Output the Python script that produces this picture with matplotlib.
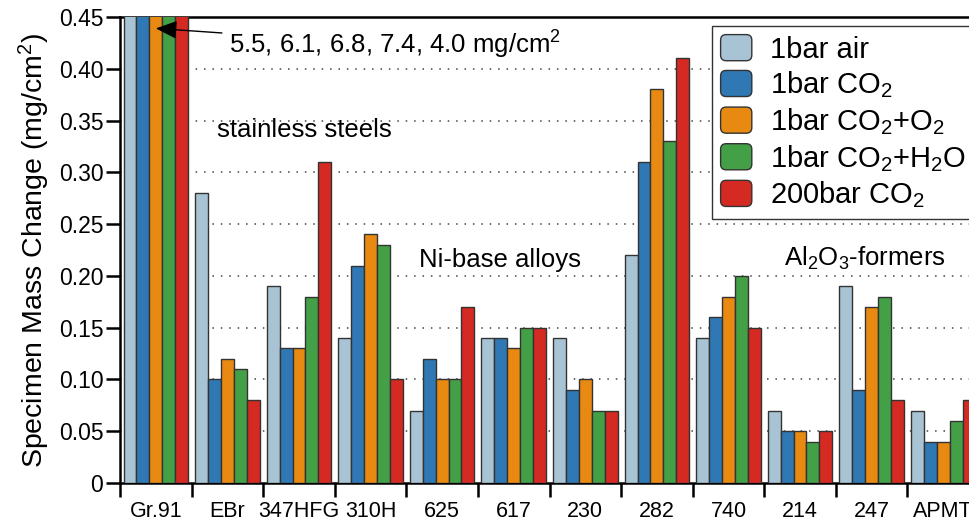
import numpy as np
import matplotlib
matplotlib.use("Agg")
import matplotlib.pyplot as plt
from matplotlib.legend_handler import HandlerPatch
from matplotlib.patches import FancyBboxPatch, Patch

plt.rcParams["font.family"] = ["Liberation Sans", "DejaVu Sans"]
plt.rcParams["mathtext.fontset"] = "custom"
plt.rcParams["mathtext.rm"] = "Liberation Sans"
plt.rcParams["mathtext.it"] = "Liberation Sans:italic"

alloys = ["Gr.91", "EBr", "347HFG", "310H", "625", "617", "230", "282",
          "740", "214", "247", "APMT"]
series = ["1bar air", "1bar CO$_2$", "1bar CO$_2$+O$_2$",
          "1bar CO$_2$+H$_2$O", "200bar CO$_2$"]
air_1bar = [5.5, 0.28, 0.19, 0.14, 0.07, 0.14, 0.14, 0.22, 0.14, 0.07, 0.19, 0.07]
co2_1bar = [6.1, 0.10, 0.13, 0.21, 0.12, 0.14, 0.09, 0.31, 0.16, 0.05, 0.09, 0.04]
co2_o2_1bar = [6.8, 0.12, 0.13, 0.24, 0.10, 0.13, 0.10, 0.38, 0.18, 0.05, 0.17, 0.04]
co2_h2o_1bar = [7.4, 0.11, 0.18, 0.23, 0.10, 0.15, 0.07, 0.33, 0.20, 0.04, 0.18, 0.06]
co2_200bar = [4.0, 0.08, 0.31, 0.10, 0.17, 0.15, 0.07, 0.41, 0.15, 0.05, 0.08, 0.08]
values = [air_1bar, co2_1bar, co2_o2_1bar, co2_h2o_1bar, co2_200bar]
colors = ["#a8c4d4", "#2f78b3", "#e88a12", "#44a046", "#d42a22"]

fig = plt.figure(figsize=(9.69, 5.21), dpi=100)
ax = fig.add_axes([120 / 969, 38 / 521, 859 / 969, 466 / 521])

x = np.arange(len(alloys))
w = 0.18
for i, (vals, c, lab) in enumerate(zip(values, colors, series)):
    ax.bar(x + (i - 2) * w, vals, width=w, color=c, edgecolor="#333333",
           linewidth=1, label=lab, zorder=3)

ax.set_xlim(-0.5, len(alloys) - 0.5)
ax.set_ylim(0, 0.45)

# dotted grid lines
for yv in np.arange(0.05, 0.41, 0.05):
    ax.axhline(yv, color="#444444", linestyle=(0, (1, 4.5)), linewidth=1.1, zorder=1)

ax.set_yticks(np.arange(0, 0.451, 0.05))
ax.set_yticklabels(["0"] + [f"{v:.2f}" for v in np.arange(0.05, 0.451, 0.05)])
ax.set_xticks(np.arange(-0.5, len(alloys), 1.0))
ax.set_xticklabels([])
ax.set_xticks(x, minor=True)
ax.set_xticklabels(alloys, minor=True)
ax.tick_params(axis="x", which="major", direction="out", length=10, width=1.8)
ax.tick_params(axis="x", which="minor", length=0, labelsize=15.5, pad=13)
ax.tick_params(axis="y", direction="out", length=10, width=1.8, labelsize=16.5, pad=2)
for s in ["left", "bottom", "top"]:
    ax.spines[s].set_linewidth(1.8)
ax.spines["right"].set_visible(False)
ax.set_ylabel("Specimen Mass Change (mg/cm$^2$)", fontsize=20.5, labelpad=5)

ax.annotate("5.5, 6.1, 6.8, 7.4, 4.0 mg/cm$^2$", xy=(0.0, 0.439),
            xytext=(1.02, 0.423), fontsize=18.5, va="center", ha="left",
            arrowprops=dict(arrowstyle="-|>,head_length=0.7,head_width=0.3",
                            color="black", lw=1, shrinkA=3, shrinkB=0),
            zorder=5)
ax.text(2.07, 0.341, "stainless steels", fontsize=18.5, ha="center", va="center")
ax.text(4.81, 0.215, "Ni-base alloys", fontsize=18.5, ha="center", va="center")
ax.text(9.90, 0.217, "Al$_2$O$_3$-formers", fontsize=18.5, ha="center", va="center")


class RoundHandler(HandlerPatch):
    def create_artists(self, legend, orig_handle, xdescent, ydescent,
                       width, height, fontsize, trans):
        p = FancyBboxPatch((-xdescent, -ydescent), width, height,
                           boxstyle="round,pad=0,rounding_size=4",
                           facecolor=orig_handle.get_facecolor(),
                           edgecolor="#333333", linewidth=1, transform=trans)
        return [p]


handles = [Patch(facecolor=c) for c in colors]
leg = ax.legend(handles, series, loc="upper left",
                bbox_to_anchor=(0.689, 0.981), borderaxespad=0,
                fontsize=21, handlelength=1.07, handleheight=1.0,
                handletextpad=0.62, labelspacing=0.2, borderpad=0.3,
                fancybox=False, edgecolor="#333333", framealpha=1,
                handler_map={Patch: RoundHandler()})
leg.get_frame().set_linewidth(1)

fig.savefig("out.png", dpi=100)
